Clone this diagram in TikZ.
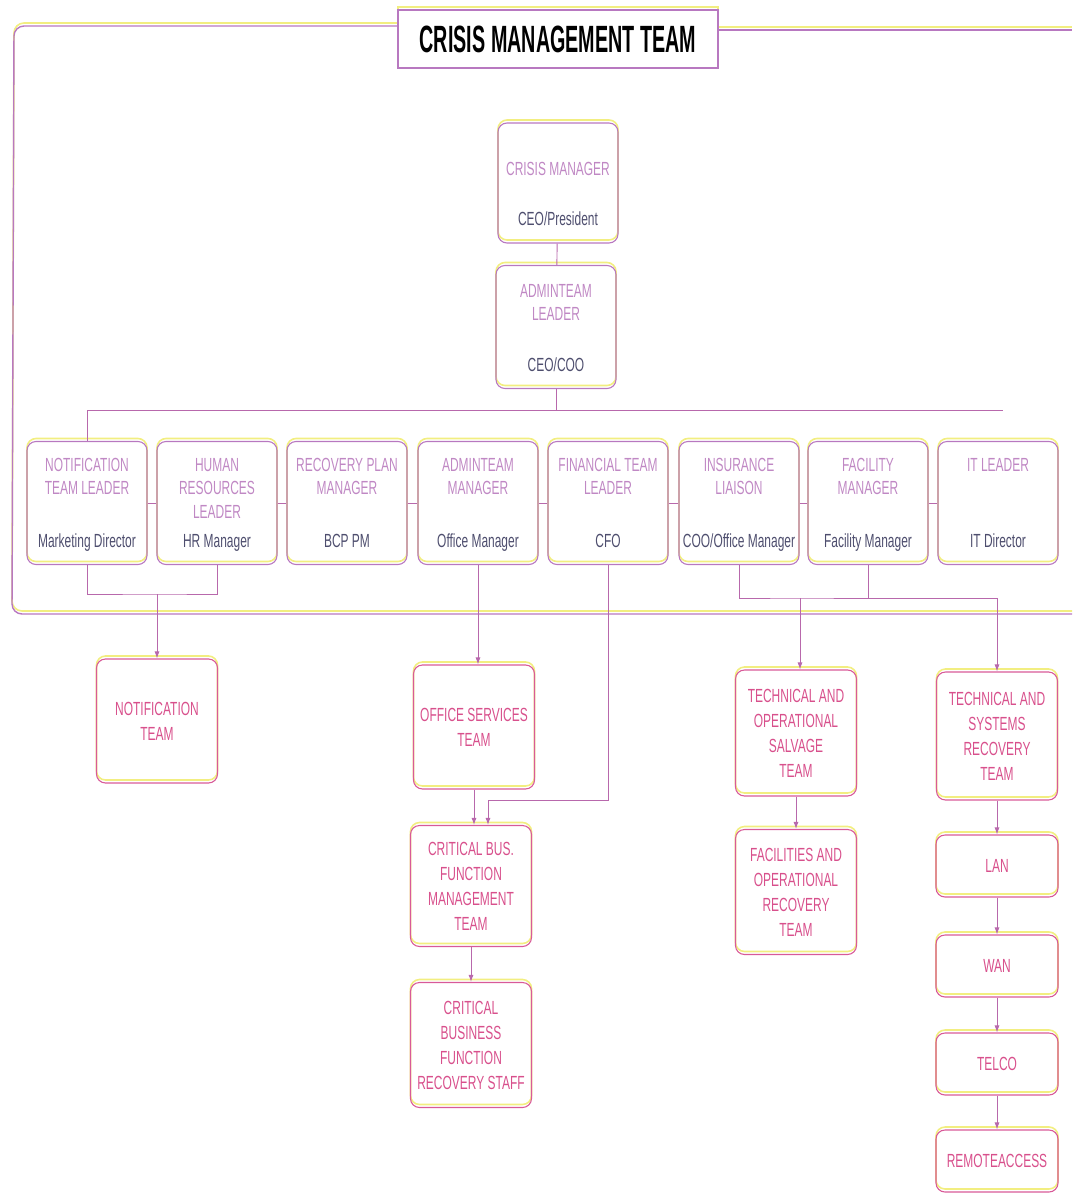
\documentclass[tikz,border=0pt]{standalone}
\usepackage{fontspec}
\setmainfont{Liberation Sans}
\newfontfamily\narrowfont[FakeStretch=0.63]{Liberation Sans}
\newfontfamily\headfont[FakeStretch=0.52]{Liberation Sans}
\usetikzlibrary{positioning,arrows.meta}
\definecolor{lilac}{HTML}{B878C0}
\definecolor{rosered}{HTML}{D85A98}
\definecolor{mauve}{HTML}{C088C4}
\definecolor{slate}{HTML}{4E4E6E}
\definecolor{paleyellow}{HTML}{F2EE80}
\definecolor{linkpink}{HTML}{B868AC}
\definecolor{teamtext}{HTML}{D8508C}

\begin{document}
\begin{tikzpicture}[x=1pt,y=-1pt,>={Latex[length=7pt,width=5pt]},
    yellowline/.style={preaction={draw=paleyellow,line width=1.6pt,transform canvas={yshift=3pt}}},
    frame/.style={draw=lilac,line width=1.4pt,yellowline,rounded corners=10pt},
    rolebox/.style={draw=lilac,line width=1.1pt,rounded corners=9pt,minimum width=120pt,minimum height=123pt,yellowline},
    roletitle/.style={inner sep=0pt,text=mauve,align=center,font=\narrowfont\fontsize{19}{23.5}\selectfont},
    rolesub/.style={inner sep=0pt,anchor=base,text=slate,font=\narrowfont\fontsize{19}{23}\selectfont},
    teambox/.style={draw=rosered,line width=1.1pt,rounded corners=9pt,minimum width=121pt,minimum height=124pt,yellowline,
        text=teamtext,align=center,font=\narrowfont\fontsize{19}{25}\selectfont},
    smallbox/.style={teambox,minimum width=122pt,minimum height=62pt},
    link/.style={draw=linkpink,line width=0.9pt}]
    \useasboundingbox (0,0) rectangle (1072,1194);

    % frame and title
    \draw[frame] (398,26) -- (14,26) -- (12,614) -- (1072,614);
    \draw[frame] (718,30) -- (1072,30);
    \node[draw=lilac,line width=1.1pt,yellowline,fill=white,minimum width=320pt,minimum height=58pt,
        font=\headfont\bfseries\fontsize{38}{40}\selectfont] (title) at (558,39) {CRISIS MANAGEMENT TEAM};

    % top of the chart
    \node[rolebox,minimum height=120pt] (cm) at (558,183) {};
    \node[roletitle,below=40pt of cm.north] (cm-t) {CRISIS MANAGER};
    \node[rolesub] (cm-s) at ([yshift=18pt]cm.south) {CEO/President};
    \node[rolebox] (atl) at (556,327) {};
    \node[roletitle,below=19pt of atl.north] (atl-t) {ADMINTEAM\\LEADER};
    \node[rolesub] (atl-s) at ([yshift=18pt]atl.south) {CEO/COO};

    % row of leaders
    \node[rolebox] (ntl) at (87,503) {};
    \node[roletitle,below=17pt of ntl.north] (ntl-t) {NOTIFICATION\\TEAM LEADER};
    \node[rolesub] (ntl-s) at ([yshift=18pt]ntl.south) {Marketing Director};
    \node[rolebox] (hrl) at (217,503) {};
    \node[roletitle,below=17pt of hrl.north] (hrl-t) {HUMAN\\RESOURCES\\LEADER};
    \node[rolesub] (hrl-s) at ([yshift=18pt]hrl.south) {HR Manager};
    \node[rolebox] (rpm) at (347,503) {};
    \node[roletitle,below=17pt of rpm.north] (rpm-t) {RECOVERY PLAN\\MANAGER};
    \node[rolesub] (rpm-s) at ([yshift=18pt]rpm.south) {BCP PM};
    \node[rolebox] (atm) at (478,503) {};
    \node[roletitle,below=17pt of atm.north] (atm-t) {ADMINTEAM\\MANAGER};
    \node[rolesub] (atm-s) at ([yshift=18pt]atm.south) {Office Manager};
    \node[rolebox] (ftl) at (608,503) {};
    \node[roletitle,below=17pt of ftl.north] (ftl-t) {FINANCIAL TEAM\\LEADER};
    \node[rolesub] (ftl-s) at ([yshift=18pt]ftl.south) {CFO};
    \node[rolebox] (il) at (739,503) {};
    \node[roletitle,below=17pt of il.north] (il-t) {INSURANCE\\LIAISON};
    \node[rolesub] (il-s) at ([yshift=18pt]il.south) {COO/Office Manager};
    \node[rolebox] (fm) at (868,503) {};
    \node[roletitle,below=17pt of fm.north] (fm-t) {FACILITY\\MANAGER};
    \node[rolesub] (fm-s) at ([yshift=18pt]fm.south) {Facility Manager};
    \node[rolebox] (itl) at (998,503) {};
    \node[roletitle,below=17pt of itl.north] (itl-t) {IT LEADER};
    \node[rolesub] (itl-s) at ([yshift=18pt]itl.south) {IT Director};

    % teams
    \node[teambox] (nteam) at (157,721) {NOTIFICATION\\TEAM};
    \node[teambox] (ost) at (474,727) {OFFICE SERVICES\\TEAM};
    \node[teambox,minimum height=121pt] (cbf) at (471,886) {CRITICAL BUS.\\FUNCTION\\MANAGEMENT\\TEAM};
    \node[teambox,minimum height=125pt] (cbr) at (471,1045) {CRITICAL\\BUSINESS\\FUNCTION\\RECOVERY STAFF};
    \node[teambox,minimum height=126pt] (tos) at (796,733) {TECHNICAL AND\\OPERATIONAL\\SALVAGE\\TEAM};
    \node[teambox,minimum height=125pt] (fors) at (796,892) {FACILITIES AND\\OPERATIONAL\\RECOVERY\\TEAM};
    \node[teambox,minimum height=128pt] (tsr) at (997,736) {TECHNICAL AND\\SYSTEMS\\RECOVERY\\TEAM};
    \node[smallbox] (lan) at (997,866) {LAN};
    \node[smallbox] (wan) at (997,966) {WAN};
    \node[smallbox] (telco) at (997,1064) {TELCO};
    \node[smallbox] (ra) at (997,1161) {REMOTEACCESS};

    % links
    \coordinate (barend) at (1003,410);
    \coordinate (notejoin) at (157,594);
    \coordinate (finjoin) at (488,800);
    \coordinate (insjoin) at (800,598);
    \draw[link] (cm) -- (atl);
    \draw[link] (atl.south) -- (atl.south |- barend);
    \draw[link] (ntl.north) |- (barend);
    \draw[link] (ntl) -- (hrl);
    \draw[link] (hrl) -- (rpm);
    \draw[link] (rpm) -- (atm);
    \draw[link] (atm) -- (ftl);
    \draw[link] (ftl) -- (il);
    \draw[link] (il) -- (fm);
    \draw[link] (fm) -- (itl);
    \draw[link] (ntl.south) |- (notejoin) -| (hrl.south);
    \draw[link,->] (notejoin) -- (nteam.north);
    \draw[link,->] (atm.south) -- (atm.south |- ost.north);
    \draw[link,->] (ftl.south) |- (finjoin) -- (finjoin |- cbf.north);
    \draw[link,->] (ost.south) -- (ost.south |- cbf.north);
    \draw[link,->] (cbf) -- (cbr);
    \draw[link] (il.south) |- (insjoin) -| (fm.south);
    \draw[link,->] (insjoin) -- (insjoin |- tos.north);
    \draw[link,->] (fm.south |- insjoin) -| (tsr.north);
    \draw[link,->] (tos) -- (fors);
    \draw[link,->] (tsr) -- (lan);
    \draw[link,->] (lan) -- (wan);
    \draw[link,->] (wan) -- (telco);
    \draw[link,->] (telco) -- (ra);
\end{tikzpicture}
\end{document}
